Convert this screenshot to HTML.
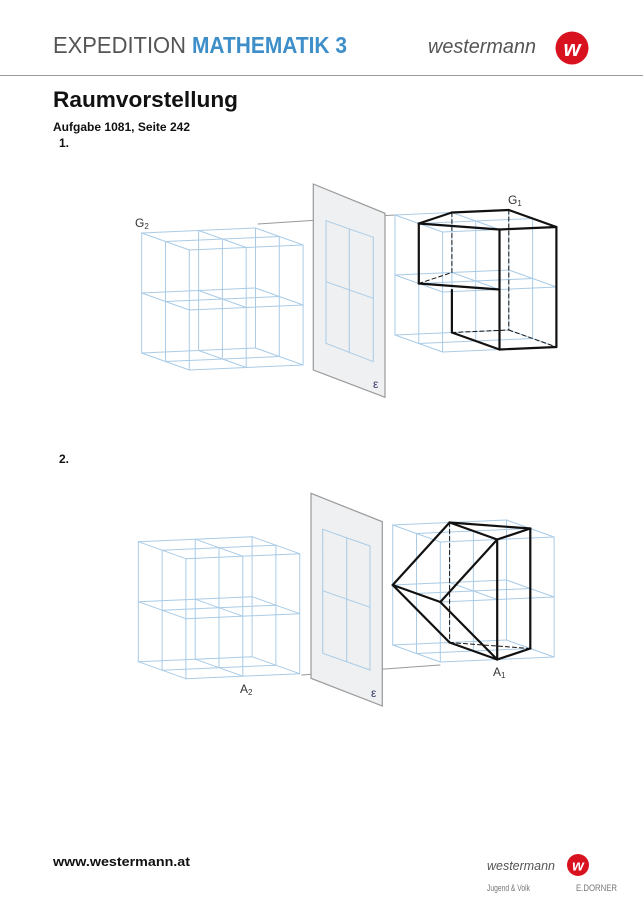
<!DOCTYPE html>
<html><head><meta charset="utf-8"><style>
html,body{margin:0;padding:0;background:#fff;}
svg{display:block;}
</style></head><body>
<svg id="s" width="643" height="912" viewBox="0 0 643 912" xmlns="http://www.w3.org/2000/svg" font-family="Liberation Sans, sans-serif">
<text x="53" y="53" font-size="23" fill="#555" textLength="133" lengthAdjust="spacingAndGlyphs">EXPEDITION</text>
<text x="192" y="53" font-size="23" fill="#3d8ec9" font-weight="bold" textLength="155" lengthAdjust="spacingAndGlyphs">MATHEMATIK 3</text>
<text x="428" y="53" font-size="20" font-style="italic" fill="#555" textLength="108" lengthAdjust="spacingAndGlyphs">westermann</text>
<circle cx="572" cy="48" r="16.5" fill="#d9121f"/>
<text x="572" y="56" font-size="22" font-weight="bold" font-style="italic" fill="#fff" text-anchor="middle">w</text>
<line x1="0" y1="75.5" x2="643" y2="75.5" stroke="#999" stroke-width="1"/>
<text x="53" y="107" font-size="22" font-weight="bold" fill="#111" textLength="185" lengthAdjust="spacingAndGlyphs">Raumvorstellung</text>
<text x="53" y="131" font-size="12" font-weight="bold" fill="#111" textLength="137" lengthAdjust="spacingAndGlyphs">Aufgabe 1081, Seite 242</text>
<text x="59" y="147" font-size="12" font-weight="bold" fill="#111">1.</text>
<text x="59" y="463" font-size="12" font-weight="bold" fill="#111">2.</text>

<g id="g"></g>

<text x="53" y="866" font-size="13" font-weight="bold" fill="#111" textLength="137" lengthAdjust="spacingAndGlyphs">www.westermann.at</text>
<text x="487" y="870" font-size="13" font-style="italic" fill="#555" textLength="68" lengthAdjust="spacingAndGlyphs">westermann</text>
<circle cx="578" cy="865" r="11" fill="#d9121f"/>
<text x="578" y="870.5" font-size="15" font-weight="bold" font-style="italic" fill="#fff" text-anchor="middle">w</text>
<text x="487" y="891" font-size="9" fill="#777" textLength="43" lengthAdjust="spacingAndGlyphs">Jugend &amp; Volk</text>
<text x="576" y="891" font-size="9" fill="#777" textLength="41" lengthAdjust="spacingAndGlyphs">E.DORNER</text>
</svg>
<script>
(function(){
var g=document.getElementById('g'),NS='http://www.w3.org/2000/svg';
function el(t,a){var e=document.createElementNS(NS,t);for(var k in a)e.setAttribute(k,a[k]);g.appendChild(e);return e;}
function P(O,i,j,k){return [O[0]+56.9*i+23.8*k,O[1]-2.5*i+8.5*k+60*j];}
function ln(a,b,st,w,d){var o={x1:a[0],y1:a[1],x2:b[0],y2:b[1],stroke:st,'stroke-width':w,'stroke-linecap':'round'};if(d)o['stroke-dasharray']=d;el('line',o);}
function grid(O){for(var a=0;a<3;a++)for(var b=0;b<3;b++){
ln(P(O,0,a,b),P(O,2,a,b),'#a9cbe6',1);
ln(P(O,a,0,b),P(O,a,2,b),'#a9cbe6',1);
ln(P(O,a,b,0),P(O,a,b,2),'#a9cbe6',1);}}
function plane(q,r,mv,mh){
el('polygon',{points:q.map(function(p){return p.join(',')}).join(' '),fill:'#eef0f1',stroke:'#999','stroke-width':1.2});
el('polygon',{points:r.map(function(p){return p.join(',')}).join(' '),fill:'none',stroke:'#a9cbe6','stroke-width':1});
ln(mv[0],mv[1],'#a9cbe6',1);ln(mh[0],mh[1],'#a9cbe6',1);}
function txt(x,y,s,sub,c){var t=el('text',{x:x,y:y,'font-size':12,fill:c||'#333'});t.textContent=s;if(sub){var u=document.createElementNS(NS,'tspan');u.setAttribute('font-size','8');u.setAttribute('dy','2');u.textContent=sub;t.appendChild(u);}}
// Diagram 1
var L1=[141.7,233],R1=[395,215];
grid(L1);
ln([258,224],[395,215],'#999',1);
plane([[313.3,184],[385,213.3],[385,397.3],[313.3,370]],[[326,220.7],[373.3,237.3],[373.3,361.7],[326,343.3]],[[349.3,228.7],[349.3,352.5]],[[326,281.7],[373.3,298.3]]);
grid(R1);
var K='#111',W=2.2,D='4,3';
function B(O,a,b,d){ln(P(O,a[0],a[1],a[2]),P(O,b[0],b[1],b[2]),K,d?1:W,d?D:null);}
B(R1,[1,0,0],[1,1,0],1);B(R1,[0,1,1],[1,1,0],1);B(R1,[2,0,0],[2,2,0],1);B(R1,[1,2,0],[2,2,0],1);B(R1,[2,2,0],[2,2,2],1);
B(R1,[0,0,1],[1,0,0]);B(R1,[1,0,0],[2,0,0]);B(R1,[2,0,0],[2,0,2]);B(R1,[2,0,2],[1,0,2]);B(R1,[1,0,2],[0,0,1]);
B(R1,[0,0,1],[0,1,1]);B(R1,[0,1,1],[1,1,2]);B(R1,[1,0,2],[1,2,2]);B(R1,[2,0,2],[2,2,2]);B(R1,[2,2,2],[1,2,2]);B(R1,[1,2,2],[1,2,0]);
ln([451.9,290],P(R1,1,2,0),K,W);
txt(135,227,'G','2');txt(508,204,'G','1');
el('text',{x:373,y:388,'font-size':12,fill:'#336'}).textContent='ε';
// Diagram 2
var L2=[138.3,541.7],R2=[392.7,525];
grid(L2);
ln([301.7,675],[440,665],'#999',1);
plane([[311,493.3],[382.3,521.7],[382.3,706],[311,678.3]],[[322.7,529.3],[370,546],[370,670],[322.7,653.3]],[[346.7,537.6],[346.7,661.6]],[[322.7,590.7],[370,607.3]]);
grid(R2);
B(R2,[1,0,0],[1,2,0],1);B(R2,[1,2,0],[2,2,1],1);
B(R2,[1,0,0],[2,0,1]);B(R2,[1,0,0],[1,0,2]);B(R2,[2,0,1],[1,0,2]);B(R2,[1,0,2],[1,2,2]);B(R2,[2,0,1],[2,2,1]);B(R2,[2,2,1],[1,2,2]);
B(R2,[1,0,0],[0,1,0]);B(R2,[0,1,0],[0,1,2]);B(R2,[0,1,2],[1,0,2]);B(R2,[0,1,0],[1,2,0]);B(R2,[1,2,0],[1,2,2]);B(R2,[0,1,2],[1,2,2]);
txt(240,693,'A','2');txt(493,676,'A','1');
el('text',{x:371,y:697,'font-size':12,fill:'#336'}).textContent='ε';
})();
</script>
</body></html>
